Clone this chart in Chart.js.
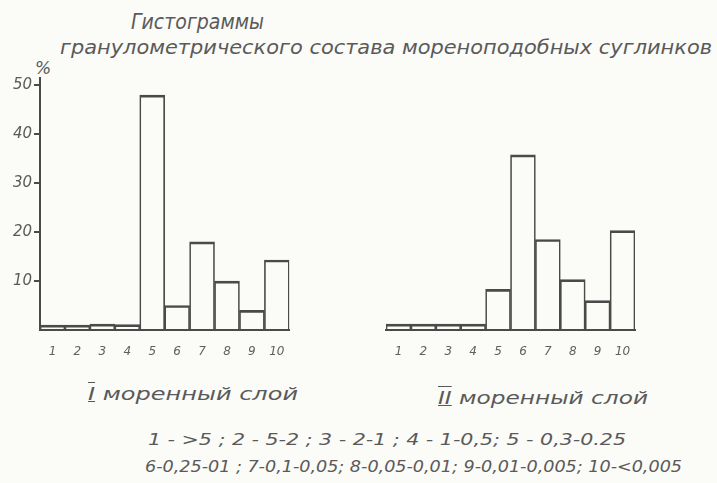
<!DOCTYPE html>
<html><head><meta charset="utf-8">
<script src="https://cdn.jsdelivr.net/npm/chart.js@4"></script>
<style>
html,body{margin:0;padding:0;background:#fbfbf8;}
#wrap{position:relative;width:717px;height:483px;overflow:hidden;font-family:"DejaVu Sans",sans-serif;font-style:italic;color:#5a5a5a;}
.t{position:absolute;white-space:nowrap;transform-origin:0 50%;line-height:1;}
canvas{position:absolute;}
.ro{text-decoration:underline overline;}
</style></head><body>
<div id="wrap">
 <div class="t" data-w="133" style="left:131px;top:11px;font-size:22px;">Гистограммы</div>
 <div class="t" data-w="652" style="left:60px;top:38px;font-size:19px;">гранулометрического состава мореноподобных суглинков</div>
 <div class="t" style="left:35px;top:60px;font-size:17px;">%</div>
 <div class="t" data-w="210" style="left:88px;top:385px;font-size:18px;"><span class="ro">I</span> моренный слой</div>
 <div class="t" data-w="210" style="left:438px;top:389px;font-size:18px;"><span class="ro">II</span> моренный слой</div>
 <div class="t" data-w="478" style="left:148px;top:432px;font-size:16px;">1 - &gt;5 ;  2 - 5-2 ;  3 - 2-1 ;  4 - 1-0,5;  5 - 0,3-0.25</div>
 <div class="t" data-w="537" style="left:145px;top:459px;font-size:16px;">6-0,25-01 ; 7-0,1-0,05; 8-0,05-0,01; 9-0,01-0,005; 10-&lt;0,005</div>
 <canvas id="c1" style="left:0;top:0;width:300px;height:370px" width="300" height="370"></canvas>
 <canvas id="c2" style="left:350px;top:0;width:300px;height:370px" width="300" height="370"></canvas>
</div>
<script>
const categories = ['1','2','3','4','5','6','7','8','9','10'];
const layer1 = [1, 1, 1.2, 1.1, 48, 5, 18, 10, 4, 14.3];
const layer2 = [1.2, 1.2, 1.2, 1.2, 8.3, 35.8, 18.5, 10.3, 6, 20.3];
const yTicks = [10, 20, 30, 40, 50];

document.querySelectorAll('.t[data-w]').forEach(el => {
  const w = +el.dataset.w, r = el.getBoundingClientRect().width;
  el.style.transform = 'scaleX(' + (w / r) + ')';
});

const LINE = '#4a4a4a';
const font = {family: 'DejaVu Sans', style: 'italic', size: 12};

function makeChart(id, data, showY, pad) {
  return new Chart(document.getElementById(id), {
    type: 'bar',
    data: {labels: categories, datasets: [{
      data: data,
      backgroundColor: 'rgba(0,0,0,0)',
      borderColor: LINE,
      borderWidth: {top: 2, left: 1, right: 1, bottom: 0},
      borderSkipped: false,
      barPercentage: 1, categoryPercentage: 1
    }]},
    options: {
      responsive: false, animation: false,
      layout: {padding: pad},
      plugins: {legend: {display: false}, tooltip: {enabled: false}},
      scales: {
        x: {
          afterFit: s => { s.height = 40; },
          grid: {drawOnChartArea: false, drawTicks: false},
          border: {display: true, color: LINE, width: 2},
          ticks: {padding: 15, color: '#606060', font: font}
        },
        y: {
          display: showY, min: 0, max: 51.5,
          afterBuildTicks: s => { s.ticks = yTicks.map(v => ({value: v})); },
          afterFit: s => { s.width = showY ? 40 : 0; },
          grid: {drawOnChartArea: false, drawTicks: true, tickLength: 6, color: LINE, lineWidth: 2},
          border: {display: true, color: LINE, width: 2},
          ticks: {padding: 2, color: '#5a5a5a', font: {family: 'DejaVu Sans', style: 'italic', size: 15}}
        }
      }
    }
  });
}
makeChart('c1', layer1, true, {top: 78, right: 10, left: 0, bottom: 0});
makeChart('c2', layer2, false, {top: 78, right: 15, left: 36, bottom: 0});
</script>
</body></html>
